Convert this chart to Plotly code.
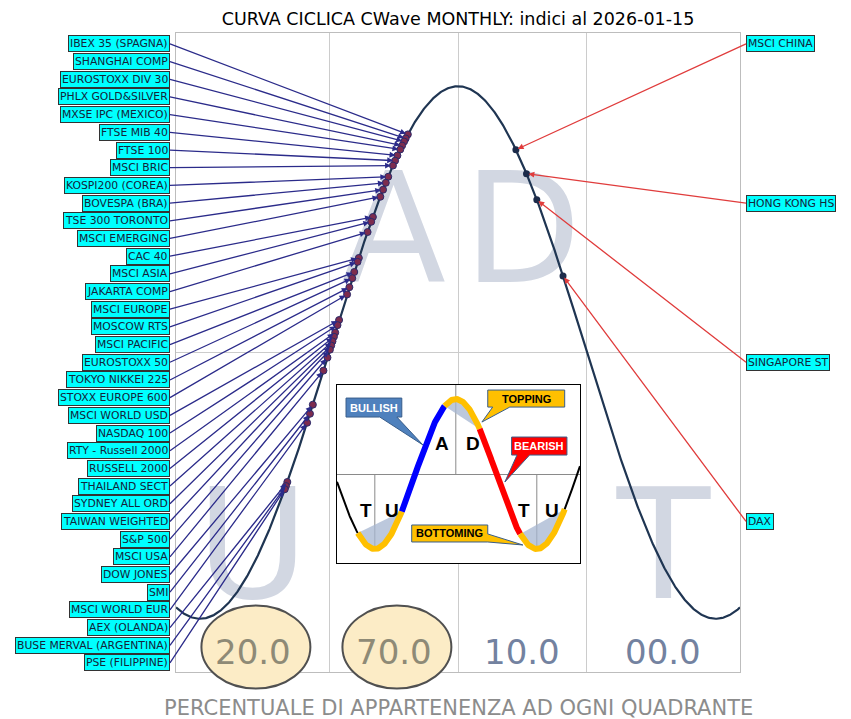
import numpy as np
import plotly.graph_objects as go

# ---------------- data ----------------
TITLE = "CURVA CICLICA CWave MONTHLY: indici al 2026-01-15"
X_TITLE = "PERCENTUALE DI APPARTENENZA AD OGNI QUADRANTE"

left_names = ["IBEX 35 (SPAGNA)", "SHANGHAI COMP", "EUROSTOXX DIV 30", "PHLX GOLD&SILVER",
              "MXSE IPC (MEXICO)", "FTSE MIB 40", "FTSE 100", "MSCI BRIC", "KOSPI200 (COREA)",
              "BOVESPA (BRA)", "TSE 300 TORONTO", "MSCI EMERGING", "CAC 40", "MSCI ASIA",
              "JAKARTA COMP", "MSCI EUROPE", "MOSCOW RTS", "MSCI PACIFIC", "EUROSTOXX 50",
              "TOKYO NIKKEI 225", "STOXX EUROPE 600", "MSCI WORLD USD", "NASDAQ 100",
              "RTY - Russell 2000", "RUSSELL 2000", "THAILAND SECT", "SYDNEY ALL ORD",
              "TAIWAN WEIGHTED", "S&P 500", "MSCI USA", "DOW JONES", "SMI", "MSCI WORLD EUR",
              "AEX (OLANDA)", "BUSE MERVAL (ARGENTINA)", "PSE (FILIPPINE)"]
# phase in degrees along the cycle (0 = top, -180 / +180 = bottoms)
left_phase = [-35.0, -36.5, -37.6, -39.0, -40.3, -42.3, -43.9, -45.4, -48.7, -50.4,
              -52.3, -54.2, -59.4, -60.6, -63.1, -69.2, -70.1, -72.4, -73.8, -75.8,
              -77.4, -83.0, -84.1, -85.7, -86.6, -87.6, -88.5, -89.4, -91.1, -93.9,
              -101.3, -103.3, -105.3, -119.1, -120.1, -120.9]

right_names = ["MSCI CHINA", "HONG KONG HS", "SINGAPORE ST", "DAX"]
right_phase = [40.4, 47.8, 55.0, 73.3]

quadrant_letters = ["U", "A", "D", "T"]
quadrant_bounds = [(-360, -90), (-90, 0), (0, 90), (90, 360)]

# inset legend
inset_letters = ["T", "U", "A", "D", "T", "U"]
callout_texts = ["BULLISH", "TOPPING", "BEARISH", "BOTTOMING"]

# ---------------- layout constants ----------------
XMAX = 196.8
YMAX = 1.2
LABEL_X = 201.0
label_y = np.linspace(1.159, -1.166, len(left_names))
right_label_y = label_y[[0, 9, 18, 27]]

FONT = "DejaVu Sans"
CURVE = "#1f3552"

fig = go.Figure()

# big quadrant letters (behind everything)
q_centers = [(-XMAX - 90) / 2, -45, 45, (XMAX + 90) / 2]
fig.add_trace(go.Scatter(
    x=q_centers, y=[-0.78, 0.41, 0.41, -0.78], mode="text",
    text=quadrant_letters, textposition="middle center",
    textfont=dict(family=FONT, size=153, color="#d2d7e2"),
    hoverinfo="skip", showlegend=False))

# cycle curve
xs = np.linspace(-XMAX, XMAX, 700)
fig.add_trace(go.Scatter(x=xs, y=np.cos(np.radians(xs)), mode="lines",
                         line=dict(color=CURVE, width=2.2), hoverinfo="skip", showlegend=False))

lp = np.array(left_phase)
rp = np.array(right_phase)
fig.add_trace(go.Scatter(x=lp, y=np.cos(np.radians(lp)), mode="markers",
                         marker=dict(size=7, color="#7d2c4e", line=dict(color="#2a2a6a", width=1)),
                         hoverinfo="skip", showlegend=False))
fig.add_trace(go.Scatter(x=rp, y=np.cos(np.radians(rp)), mode="markers",
                         marker=dict(size=7, color="#1c2b4a"),
                         hoverinfo="skip", showlegend=False))

annotations = []
label_font = dict(family=FONT, size=10.8, color="#14243a")
for name, ph, ly in zip(left_names, left_phase, label_y):
    annotations.append(dict(
        x=ph, y=float(np.cos(np.radians(ph))), xref="x", yref="y",
        ax=-LABEL_X, ay=float(ly), axref="x", ayref="y",
        text=name, showarrow=True, arrowhead=2, arrowsize=0.9, arrowwidth=1.3,
        arrowcolor="#2b2b8a", standoff=2, xanchor="right",
        bgcolor="#00ffff", bordercolor="#333333", borderwidth=1, borderpad=1,
        font=label_font))
for name, ph, ly in zip(right_names, right_phase, right_label_y):
    annotations.append(dict(
        x=ph, y=float(np.cos(np.radians(ph))), xref="x", yref="y",
        ax=LABEL_X, ay=float(ly), axref="x", ayref="y",
        text=name, showarrow=True, arrowhead=2, arrowsize=0.9, arrowwidth=1.3,
        arrowcolor="#e03c3c", standoff=2, xanchor="left",
        bgcolor="#00ffff", bordercolor="#333333", borderwidth=1, borderpad=1,
        font=label_font))

# percentages per quadrant
n_total = len(left_phase) + len(right_phase)
all_phase = np.concatenate([lp, rp])
shapes = []
for (lo, hi), xc in zip(quadrant_bounds, q_centers):
    pct = 100.0 * np.sum((all_phase >= lo) & (all_phase < hi)) / n_total
    highlighted = pct >= 20
    pxf = (xc - (-XMAX)) / (2 * XMAX)
    if highlighted:
        shapes.append(dict(type="circle", xref="paper", yref="paper",
                           x0=pxf - 0.0966 + 0.006, x1=pxf + 0.0966 + 0.006,
                           y0=0.0391 - 0.0649, y1=0.0391 + 0.0649,
                           fillcolor="#fcecc6", line=dict(color="#505050", width=2),
                           layer="above"))
    annotations.append(dict(x=xc, y=-1.1245, xref="x", yref="y", showarrow=False,
                            text=f"{pct:04.1f}",
                            font=dict(family=FONT, size=34,
                                      color="#8e8a76" if highlighted else "#7382a0")))

annotations.append(dict(x=0.5, y=0, xref="paper", yref="paper", yanchor="top", yshift=-22,
                        showarrow=False, text=X_TITLE,
                        font=dict(family=FONT, size=21, color="#8c8c8c")))

# ---------------- inset legend ----------------
GOLD, BLUE, RED = "#ffc000", "#0000ff", "#ff0000"
segments = [(-264, -218, "black", 2), (-218, -120, GOLD, 6), (-120, -25, BLUE, 6),
            (-25, 53, GOLD, 6), (53, 143, RED, 6), (143, 242, GOLD, 6), (242, 276, "black", 2)]

# divider lines in the inset
for vx, y0, y1 in [(0, 0, 1.19), (-180, 0, -1.0), (180, 0, -1.0)]:
    fig.add_trace(go.Scatter(x=[vx, vx], y=[y0, y1], xaxis="x2", yaxis="y2", mode="lines",
                             line=dict(color="#8a8a8a", width=1), hoverinfo="skip", showlegend=False))
# glossy shading in valleys and top
for a, b in [(-218, -120), (-25, 53), (143, 242)]:
    sx = np.linspace(a, b, 60)
    fig.add_trace(go.Scatter(x=sx, y=np.cos(np.radians(sx)), xaxis="x2", yaxis="y2",
                             mode="lines", fill="toself", fillcolor="rgba(165,182,208,0.75)",
                             line=dict(width=0), hoverinfo="skip", showlegend=False))
for a, b, col, w in segments:
    sx = np.linspace(a, b, 80)
    fig.add_trace(go.Scatter(x=sx, y=np.cos(np.radians(sx)), xaxis="x2", yaxis="y2",
                             mode="lines", line=dict(color=col, width=w),
                             hoverinfo="skip", showlegend=False))

inset_letter_pos = [(-200, -0.49), (-142, -0.49), (-31, 0.41), (38, 0.41), (151, -0.49), (213, -0.49)]
for t, (lx, ly) in zip(inset_letters, inset_letter_pos):
    annotations.append(dict(x=lx, y=ly, xref="x2", yref="y2", showarrow=False, text=f"<b>{t}</b>",
                            font=dict(family="Liberation Sans", size=19, color="black")))


def callout(x0, x1, y0, y1, tail, tip, edge):
    if edge == "bottom":
        t1, t2 = tail
        return (f"M {x0},{y1} L {x1},{y1} L {x1},{y0} L {t2},{y0} L {tip[0]},{tip[1]} "
                f"L {t1},{y0} L {x0},{y0} Z")
    t1, t2 = tail  # right edge, t1 upper y, t2 lower y
    return (f"M {x0},{y1} L {x1},{y1} L {x1},{t1} L {tip[0]},{tip[1]} L {x1},{t2} "
            f"L {x0},{y0} Z")


callout_specs = [
    ((-244, -120, 0.76, 1.013), (-169, -131), (-73, 0.387), "bottom", "#4f81bd", "white"),
    ((71, 242, 0.893, 1.12), (82, 120), (58, 0.693), "bottom", GOLD, "black"),
    ((124, 247, 0.253, 0.493), (136, 164), (109, -0.107), "bottom", RED, "white"),
    ((-98, 71, -0.907, -0.68), (-0.80, -0.907), (149, -0.947), "right", GOLD, "black"),
]
for txt, (box, tail, tip, edge, fill, tcol) in zip(callout_texts, callout_specs):
    x0, x1, y0, y1 = box
    shapes.append(dict(type="path", xref="x2", yref="y2", layer="above",
                       path=callout(x0, x1, y0, y1, tail, tip, edge),
                       fillcolor=fill, line=dict(color="#385d8a", width=1)))
    annotations.append(dict(x=(x0 + x1) / 2, y=(y0 + y1) / 2, xref="x2", yref="y2",
                            showarrow=False, text=f"<b>{txt}</b>",
                            font=dict(family="Liberation Sans", size=11, color=tcol)))

fig.update_layout(
    width=851, height=719,
    margin=dict(l=176, r=111, t=33, b=47),
    paper_bgcolor="white", plot_bgcolor="white",
    showlegend=False,
    title=dict(text=TITLE, x=0.5, xref="paper", y=1 - 19 / 719, yref="container",
               xanchor="center", yanchor="middle",
               font=dict(family=FONT, size=17.5, color="black")),
    xaxis=dict(range=[-XMAX, XMAX], tickvals=[-90, 0, 90], showticklabels=False, ticks="",
               showgrid=True, gridcolor="#cccccc", gridwidth=1, zeroline=False,
               showline=True, mirror=True, linecolor="#bdbdbd", linewidth=1, fixedrange=True),
    yaxis=dict(range=[-YMAX, YMAX], tickvals=[0], showticklabels=False, ticks="",
               showgrid=True, gridcolor="#cccccc", gridwidth=1, zeroline=False,
               showline=True, mirror=True, linecolor="#bdbdbd", linewidth=1, fixedrange=True),
    xaxis2=dict(domain=[0.2855, 0.7163], anchor="y2", range=[-264, 276], showticklabels=False,
                ticks="", showgrid=False, zeroline=False, showline=True, mirror=True,
                linecolor="black", linewidth=1, fixedrange=True),
    yaxis2=dict(domain=[0.1706, 0.4491], anchor="x2", range=[-1.187, 1.187], tickvals=[0],
                showticklabels=False, ticks="", showgrid=True, gridcolor="#8a8a8a",
                zeroline=False, showline=True, mirror=True, linecolor="black", linewidth=1,
                fixedrange=True),
    annotations=annotations,
    shapes=shapes,
)

fig.write_html("out.html", config={"displayModeBar": False},
               post_script="document.body.style.margin='0';")
